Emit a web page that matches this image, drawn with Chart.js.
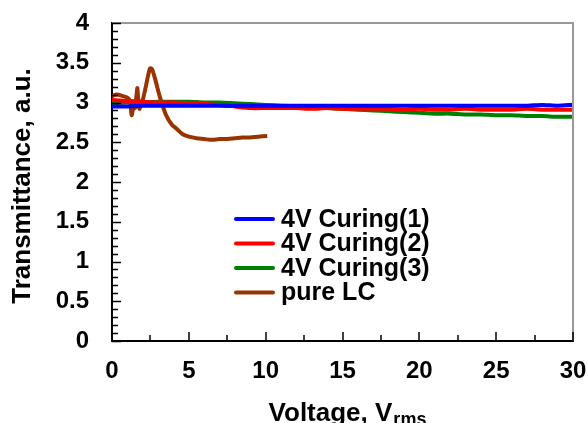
<!DOCTYPE html>
<html>
<head>
<meta charset="utf-8">
<script src="https://cdn.jsdelivr.net/npm/chart.js@4"></script>
<style>
  html, body { margin: 0; padding: 0; background: #fff; }
  #wrap { width: 588px; height: 423px; }
</style>
</head>
<body>
<div id="wrap"><canvas id="chart"></canvas></div>
<script>
// ── Data ──
const curingV = [0,1,2,3,4,5,6,7,8,9,10,11,12,13,14,15,16,17,18,19,20,21,22,23,24,25,26,27,28,29,30];
const curing1 = [2.95,2.95,2.96,2.96,2.96,2.96,2.96,2.96,2.96,2.96,2.96,2.96,2.96,2.96,2.96,2.96,2.96,2.96,2.96,2.96,2.96,2.96,2.96,2.96,2.96,2.96,2.96,2.96,2.97,2.96,2.97];
const curing2 = [3.03,3.02,3.01,3.00,3.00,2.99,2.98,2.97,2.95,2.93,2.93,2.93,2.93,2.92,2.93,2.92,2.92,2.92,2.92,2.91,2.92,2.91,2.91,2.92,2.91,2.91,2.91,2.92,2.91,2.91,2.91];
const curing3 = [2.99,3.00,3.00,3.01,3.01,3.01,3.00,3.00,2.99,2.98,2.97,2.96,2.95,2.94,2.93,2.92,2.91,2.90,2.89,2.88,2.87,2.86,2.86,2.85,2.85,2.84,2.84,2.83,2.83,2.82,2.82];

const pureV = [0,0.3,0.7,1.0,1.17,1.28,1.4,1.5,1.6,1.65,1.72,1.78,1.9,2.0,2.2,2.47,2.6,2.8,3.1,3.5,3.9,4.2,4.6,5.0,5.5,6.0,6.5,7.0,7.5,8.0,8.5,9.0,9.5,10.1];
const pureT = [3.08,3.10,3.08,3.06,3.02,2.84,2.95,2.93,3.10,3.18,3.00,2.92,2.98,3.03,3.20,3.43,3.42,3.30,3.08,2.85,2.72,2.67,2.60,2.57,2.55,2.54,2.53,2.54,2.54,2.55,2.56,2.56,2.57,2.58];

const seriesNames = ['4V Curing(1)', '4V Curing(2)', '4V Curing(3)', 'pure LC'];
const seriesColors = ['#0000ff', '#ff0000', '#008000', '#993300'];

const xTicks = [0, 5, 10, 15, 20, 25, 30];
const yTicks = [0, 0.5, 1, 1.5, 2, 2.5, 3, 3.5, 4];

const FONT = "'Liberation Sans', Arial, sans-serif";
Chart.defaults.font.family = FONT;
Chart.defaults.color = '#000';

const pts = (xs, ys) => xs.map((x, i) => ({ x, y: ys[i] }));

// ── Frame, inward ticks, titles and legend ──
const decorations = {
    id: 'decorations',
    afterDatasetsDraw(chart) {
        const { ctx, chartArea: a, scales: { x, y } } = chart;
        ctx.save();

        // grey top / right frame
        ctx.strokeStyle = '#999';
        ctx.lineWidth = 2;
        ctx.beginPath();
        ctx.moveTo(a.left, a.top);
        ctx.lineTo(a.right, a.top);
        ctx.lineTo(a.right, a.bottom);
        ctx.stroke();

        // inward tick marks
        ctx.strokeStyle = '#000';
        ctx.lineWidth = 1.5;
        ctx.beginPath();
        for (let v = 0; v <= 30.001; v += 2.5) {
            const px = Math.round(x.getPixelForValue(v));
            const len = (Math.abs(v % 5) < 0.01) ? 9 : 6;
            ctx.moveTo(px, a.bottom);
            ctx.lineTo(px, a.bottom - len);
        }
        for (let k = 0; k <= 40; k++) {
            const py = Math.round(y.getPixelForValue(k / 10)) + 0.5;
            const len = (k % 5 === 0) ? 9 : 6;
            ctx.moveTo(a.left, py);
            ctx.lineTo(a.left + len, py);
        }
        ctx.stroke();

        // y title
        ctx.fillStyle = '#000';
        ctx.font = "bold 26px " + FONT;
        ctx.textAlign = 'center';
        ctx.textBaseline = 'middle';
        ctx.save();
        ctx.translate(23, 186);
        ctx.rotate(-Math.PI / 2);
        ctx.fillText('Transmittance, a.u.', 0, 0);
        ctx.restore();

        // x title with subscript
        const main = 'Voltage, V', sub = 'rms';
        ctx.font = "bold 26px " + FONT;
        const w1 = ctx.measureText(main).width;
        ctx.font = "bold 18px " + FONT;
        const w2 = ctx.measureText(sub).width;
        const x0 = 347 - (w1 + w2) / 2;
        ctx.textAlign = 'left';
        ctx.textBaseline = 'alphabetic';
        ctx.font = "bold 26px " + FONT;
        ctx.fillText(main, x0, 421);
        ctx.font = "bold 18px " + FONT;
        ctx.fillText(sub, x0 + w1 + 1, 425);

        // legend
        ctx.font = "bold 25px " + FONT;
        ctx.textBaseline = 'middle';
        chart.data.datasets.forEach((ds, i) => {
            const ly = 219 + i * 24.5;
            ctx.strokeStyle = ds.borderColor;
            ctx.lineWidth = 4;
            ctx.lineCap = 'round';
            ctx.beginPath();
            ctx.moveTo(236, ly);
            ctx.lineTo(273, ly);
            ctx.stroke();
            ctx.fillStyle = '#000';
            ctx.fillText(ds.label, 281, ly + 1);
        });

        ctx.restore();
    }
};

const datasets = [curing1, curing2, curing3].map((vals, i) => ({
    label: seriesNames[i],
    data: pts(curingV, vals),
    borderColor: seriesColors[i],
    borderWidth: 4,
    pointRadius: 0,
    tension: 0.2,
}));
datasets.push({
    label: seriesNames[3],
    data: pts(pureV, pureT),
    borderColor: seriesColors[3],
    borderWidth: 4,
    pointRadius: 0,
    tension: 0.3,
});

// invisible outer ticks just to space the labels from the axes
const spacer = len => ({
    display: true, drawOnChartArea: false, drawTicks: true,
    tickLength: len, tickColor: 'rgba(0,0,0,0)',
});

new Chart(document.getElementById('chart'), {
    type: 'line',
    data: { datasets },
    options: {
        responsive: true,
        maintainAspectRatio: false,
        animation: false,
        layout: { padding: { top: 23, right: 15, left: 0, bottom: 0 } },
        plugins: {
            legend: { display: false },
            tooltip: { enabled: false },
        },
        scales: {
            x: {
                type: 'linear',
                min: 0,
                max: 30,
                afterFit: s => { s.height = 82; },
                afterBuildTicks: s => { s.ticks = xTicks.map(v => ({ value: v })); },
                grid: spacer(16),
                border: { display: true, color: '#000', width: 2 },
                ticks: { font: { size: 24, weight: 'bold' }, padding: 0, maxRotation: 0, callback: v => String(v) },
            },
            y: {
                min: 0,
                max: 4,
                afterFit: s => { s.width = 112; },
                afterBuildTicks: s => { s.ticks = yTicks.map(v => ({ value: v })); },
                grid: spacer(23),
                border: { display: true, color: '#000', width: 2 },
                ticks: { font: { size: 24, weight: 'bold' }, padding: 0, callback: v => String(v) },
            },
        },
    },
    plugins: [decorations],
});
</script>
</body>
</html>
